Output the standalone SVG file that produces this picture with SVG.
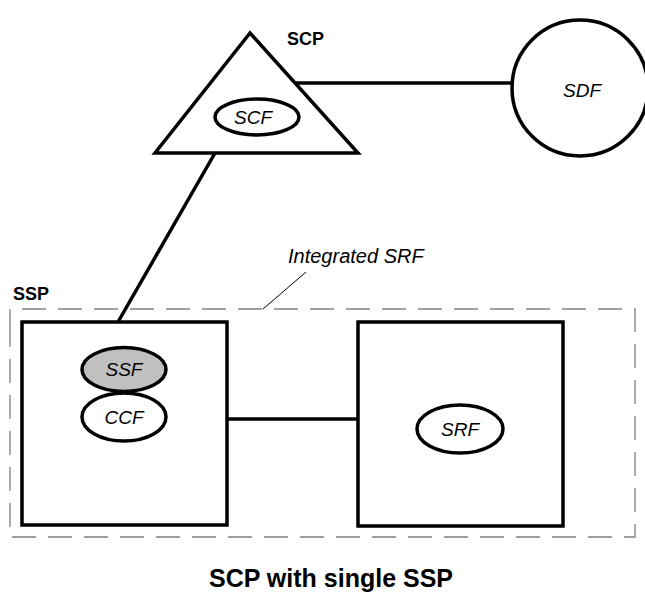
<svg xmlns="http://www.w3.org/2000/svg" width="645" height="594" viewBox="0 0 645 594">
<style>
.shape{fill:#fff;stroke:#000;stroke-width:3.5}
.conn{stroke:#000;stroke-width:3.5;fill:none}
.lbl{font-family:"Liberation Sans",Arial,sans-serif;font-style:italic;font-size:19px;fill:#000;text-anchor:middle}
.bold{font-family:"Liberation Sans",Arial,sans-serif;font-weight:bold;font-size:18px;fill:#000}
.dash{fill:none;stroke:#808080;stroke-width:1.3;stroke-dasharray:24,12}
</style>
<rect width="645" height="594" fill="#fff"/>
<g id="integrated-srf">
<path class="dash" d="M10,333 L10,309 L635,309 L635,537 L10,537 Z"/>
<line x1="306" y1="272" x2="263" y2="309" stroke="#000" stroke-width="1"/>
<text x="288" y="263" class="lbl" style="text-anchor:start;font-size:20px">Integrated SRF</text>
</g>
<g id="connectors">
<line class="conn" x1="296" y1="83" x2="512" y2="83"/>
<line class="conn" x1="215" y1="153" x2="118" y2="322"/>
<line class="conn" x1="227" y1="419" x2="358" y2="419"/>
</g>
<g id="scp">
<polygon class="shape" points="250,33 155,153 358,153" stroke-linejoin="miter"/>
<ellipse class="shape" cx="257" cy="117" rx="42" ry="18"/>
<text x="253" y="124" class="lbl">SCF</text>
<text x="287" y="45" class="bold">SCP</text>
</g>
<g id="sdf">
<circle class="shape" cx="580" cy="88" r="68"/>
<text x="582" y="97" class="lbl">SDF</text>
</g>
<g id="ssp">
<rect class="shape" x="22" y="322" width="205" height="203"/>
<ellipse cx="124" cy="369.5" rx="42" ry="22" fill="#c0c0c0" stroke="#000" stroke-width="3.5"/>
<text x="124" y="376" class="lbl">SSF</text>
<ellipse class="shape" cx="124" cy="417" rx="42" ry="24"/>
<text x="124" y="424" class="lbl">CCF</text>
<text x="13" y="300" class="bold">SSP</text>
</g>
<g id="srf-box">
<rect class="shape" x="358" y="322" width="205" height="204"/>
<ellipse class="shape" cx="460" cy="429" rx="43" ry="24"/>
<text x="460" y="436" class="lbl">SRF</text>
</g>
<text x="331" y="587" font-family="'Liberation Sans',Arial,sans-serif" font-weight="bold" font-size="25" text-anchor="middle">SCP with single SSP</text>
</svg>
